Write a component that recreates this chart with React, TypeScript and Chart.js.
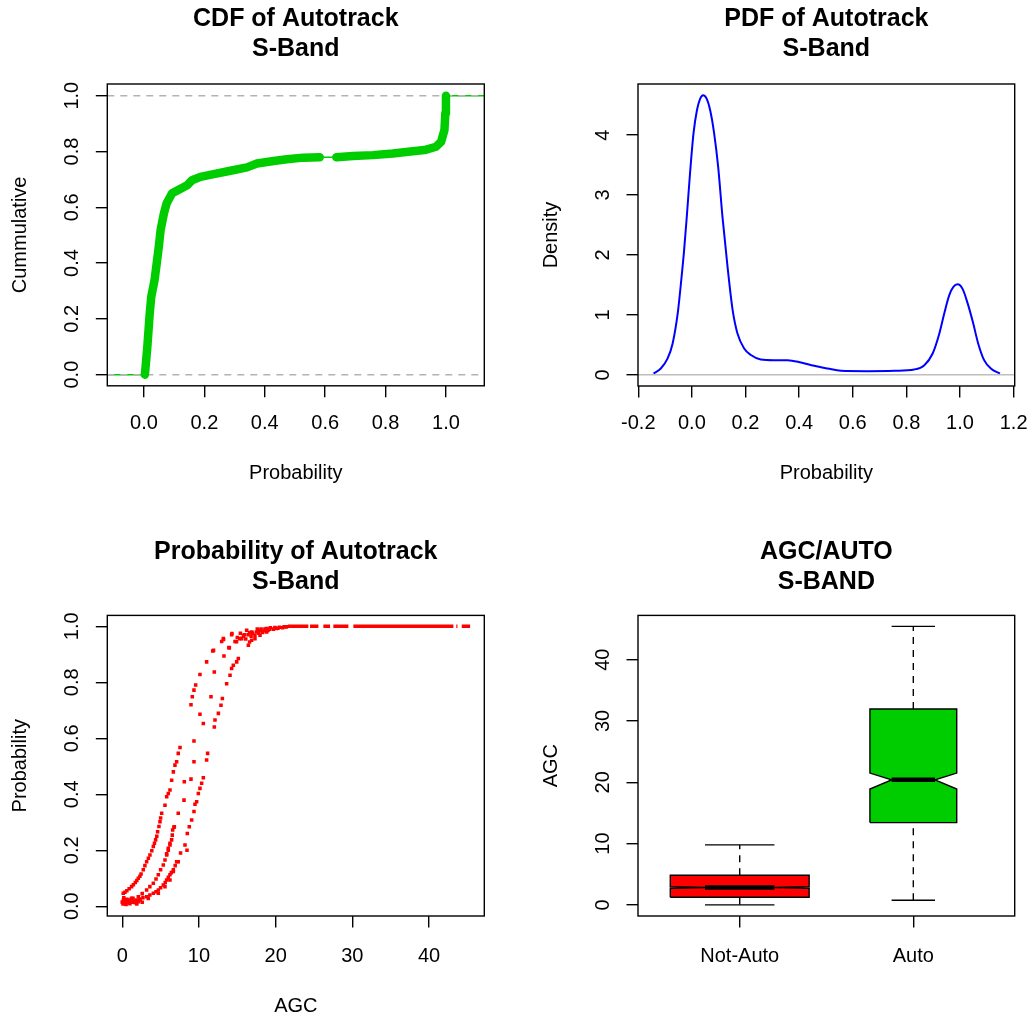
import React, { useEffect, useRef } from 'react';
import { Chart, registerables } from 'chart.js';

Chart.register(...registerables);

const FONT = "'Liberation Sans', Arial, Helvetica, sans-serif";
Chart.defaults.font.family = FONT;
Chart.defaults.color = '#000';

const GREEN = '#00CD00';
const RED = '#FF0000';
const BLUE = '#0000FF';

// ---------------- Panel 1 : CDF ----------------
const cdfXLimits = [-0.1215, 1.127];
const cdfYLimits = [-0.04, 1.042];
const cdfXTicks = [0, 0.2, 0.4, 0.6, 0.8, 1.0];
const cdfXTickLabels = ['0.0', '0.2', '0.4', '0.6', '0.8', '1.0'];
const cdfYTicks = [0, 0.2, 0.4, 0.6, 0.8, 1.0];
const cdfYTickLabels = ['0.0', '0.2', '0.4', '0.6', '0.8', '1.0'];
const cdfLower = [
  [0.003, 0.0], [0.011, 0.099], [0.019, 0.219], [0.024, 0.279], [0.035, 0.339], [0.042, 0.398],
  [0.049, 0.458], [0.055, 0.518], [0.066, 0.578], [0.075, 0.614], [0.093, 0.65], [0.115, 0.663],
  [0.143, 0.679], [0.159, 0.697], [0.187, 0.709], [0.231, 0.719], [0.286, 0.731], [0.341, 0.743],
  [0.374, 0.757], [0.429, 0.766], [0.473, 0.772], [0.527, 0.778], [0.582, 0.779],
];
const cdfUpper = [
  [0.637, 0.779], [0.692, 0.784], [0.758, 0.787], [0.824, 0.793], [0.89, 0.801], [0.929, 0.805],
  [0.967, 0.817], [0.984, 0.835], [0.995, 0.877], [0.998, 0.937], [1.0, 1.0],
];
const cdfRefLines = [0, 1];

// ---------------- Panel 2 : PDF ----------------
const pdfXLimits = [-0.201, 1.204];
const pdfYLimits = [-0.1866, 4.853];
const pdfXTicks = [-0.2, 0, 0.2, 0.4, 0.6, 0.8, 1.0, 1.2];
const pdfXTickLabels = ['-0.2', '0.0', '0.2', '0.4', '0.6', '0.8', '1.0', '1.2'];
const pdfYTicks = [0, 1, 2, 3, 4];
const pdfYTickLabels = ['0', '1', '2', '3', '4'];
const densX = [-0.143, -0.116, -0.091, -0.072, -0.053, -0.041, -0.029, -0.019, -0.007, 0.006, 0.019, 0.031,
  0.042, 0.055, 0.068, 0.083, 0.098, 0.114, 0.133, 0.152, 0.17, 0.195, 0.22, 0.257, 0.307, 0.357, 0.407,
  0.456, 0.506, 0.556, 0.655, 0.755, 0.829, 0.867, 0.898, 0.923, 0.941, 0.96, 0.976, 0.991, 1.01, 1.028,
  1.048, 1.068, 1.09, 1.115, 1.149];
const densY = [0.022, 0.106, 0.27, 0.52, 1.02, 1.52, 2.08, 2.64, 3.36, 4.03, 4.42, 4.61,
  4.666, 4.61, 4.42, 4.03, 3.47, 2.64, 1.8, 1.08, 0.69, 0.44, 0.33, 0.256, 0.245, 0.245, 0.206,
  0.15, 0.106, 0.067, 0.061, 0.067, 0.089, 0.161, 0.356, 0.69, 1.02, 1.33, 1.47, 1.51, 1.43, 1.2,
  0.88, 0.52, 0.245, 0.106, 0.022];

// ---------------- Panel 3 : probability vs AGC ----------------
const probXLimits = [-1.95, 47.2];
const probYLimits = [-0.035, 1.039];
const probXTicks = [0, 10, 20, 30, 40];
const probXTickLabels = ['0', '10', '20', '30', '40'];
const probYTicks = [0, 0.2, 0.4, 0.6, 0.8, 1.0];
const probYTickLabels = ['0.0', '0.2', '0.4', '0.6', '0.8', '1.0'];
const probCurveA = [
  [0.13, 0.046], [0.35, 0.05], [0.6, 0.055], [0.9, 0.062], [1.22, 0.07], [1.45, 0.077], [1.7, 0.085],
  [1.9, 0.092], [2.09, 0.1], [2.3, 0.107], [2.45, 0.115], [2.74, 0.13], [2.95, 0.145], [3.18, 0.159],
  [3.4, 0.171], [3.61, 0.183], [3.85, 0.198], [4.05, 0.213], [4.2, 0.225], [4.35, 0.237], [4.5, 0.25],
  [4.61, 0.266], [4.78, 0.285], [4.92, 0.302], [5.0, 0.315], [5.14, 0.332], [5.57, 0.361], [5.79, 0.391],
  [6.0, 0.403], [6.22, 0.415], [6.44, 0.45], [6.66, 0.48], [6.87, 0.504], [7.09, 0.516], [7.3, 0.546],
  [7.53, 0.567], [8.96, 0.72], [9.13, 0.748], [9.35, 0.772], [9.57, 0.79], [10.13, 0.828], [11.0, 0.873],
  [11.79, 0.912], [12.96, 0.946], [13.18, 0.956], [14.26, 0.97],
];
const probCurveB = [
  [5.79, 0.187], [6.0, 0.207], [6.22, 0.225], [6.44, 0.237], [6.57, 0.272], [6.74, 0.282], [7.3, 0.332],
  [8.05, 0.379], [8.09, 0.445], [8.96, 0.454], [9.35, 0.516], [9.35, 0.59], [10.57, 0.653], [10.13, 0.686],
  [11.57, 0.748], [12.0, 0.837], [13.26, 0.894], [13.96, 0.923],
];
const probCurveC = [
  [0.05, 0.013], [0.57, 0.017], [1.0, 0.018], [1.44, 0.02], [1.9, 0.022], [2.31, 0.026], [2.7, 0.03],
  [3.18, 0.034], [3.6, 0.04], [4.05, 0.046], [4.4, 0.052], [4.7, 0.058], [5.0, 0.066], [5.35, 0.076],
  [5.6, 0.085], [5.79, 0.094], [6.0, 0.103], [6.22, 0.112], [6.4, 0.12], [6.66, 0.13], [6.9, 0.145],
  [7.09, 0.159], [7.6, 0.19], [8.18, 0.219], [8.44, 0.2], [8.48, 0.26], [8.74, 0.284], [9.05, 0.308],
  [9.35, 0.338], [9.48, 0.364], [9.7, 0.373], [9.92, 0.403], [10.13, 0.421], [10.35, 0.439], [10.57, 0.459],
  [11.0, 0.522], [11.13, 0.546], [12.0, 0.64], [12.09, 0.665], [12.53, 0.689], [12.87, 0.718], [13.05, 0.742],
  [13.61, 0.795], [14.05, 0.825], [14.26, 0.849], [14.48, 0.861], [14.92, 0.873], [15.13, 0.885],
  [16.44, 0.932], [16.87, 0.95], [17.3, 0.956], [17.96, 0.968], [18.83, 0.98],
];
const probCurveD = [
  [0.3, 0.02], [0.78, 0.022], [1.4, 0.028], [2.09, 0.034], [2.6, 0.045], [3.18, 0.058], [3.6, 0.07],
  [4.05, 0.082], [4.4, 0.097], [4.7, 0.112], [5.0, 0.13], [5.35, 0.147], [5.57, 0.165], [5.79, 0.183],
  [6.0, 0.2], [6.22, 0.219], [6.52, 0.254], [6.79, 0.284], [1.66, 0.014], [3.39, 0.028], [4.7, 0.046],
  [5.57, 0.07], [6.22, 0.094], [6.66, 0.124], [7.3, 0.159],
];
const probLowCluster = [
  [0.1, 0.008], [0.4, 0.01], [0.7, 0.012], [1.0, 0.009], [1.3, 0.014], [1.7, 0.012], [2.1, 0.016],
  [2.6, 0.014], [0.2, 0.03], [0.6, 0.025], [0.9, 0.02], [1.2, 0.028], [0.3, 0.018], [0.0, 0.015],
  [0.5, 0.006], [0.8, 0.016], [1.5, 0.02], [1.9, 0.008], [2.3, 0.022], [0.15, 0.022],
];
const probUpperPts = [
  [11.9, 0.914], [13.2, 0.953], [13.9, 0.924], [14.3, 0.974], [14.7, 0.946], [14.9, 0.945], [15.0, 0.96],
  [15.3, 0.956], [15.4, 0.975], [15.57, 0.956], [15.8, 0.965], [15.9, 0.97], [16.1, 0.955], [16.22, 0.986],
  [16.4, 0.97], [16.6, 0.978], [16.6, 0.944], [16.8, 0.965], [16.9, 0.98], [17.0, 0.975], [17.3, 0.968],
  [17.5, 0.98], [17.6, 0.99], [17.8, 0.975], [17.9, 0.985], [18.0, 0.986], [18.1, 0.99], [18.3, 0.978],
  [18.5, 0.984], [18.6, 0.99], [18.8, 0.992], [19.0, 0.985], [19.2, 0.99], [19.3, 0.995], [19.7, 0.99],
  [19.9, 0.996], [20.1, 0.992], [20.3, 0.993], [20.5, 0.997], [20.9, 0.995], [21.1, 0.998], [21.4, 0.998],
];
const probTopBand = [
  [21.6, 24.26], [24.48, 25.57], [26.22, 27.09], [27.52, 29.48], [30.13, 43.17], [43.55, 43.7], [44.26, 45.35],
];

// ---------------- Panel 4 : boxplot ----------------
const boxXLimits = [0.414, 2.584];
const boxYLimits = [-1.816, 47.22];
const boxCats = ['Not-Auto', 'Auto'];
const boxPos = [1, 2];
const boxHalfWidth = [0.4, 0.25];
const boxColors = [RED, GREEN];
const whiskLow = [0, 0.76];
const q1 = [1.25, 13.42];
const med = [2.83, 20.4];
const q3 = [4.84, 31.96];
const whiskHigh = [9.78, 45.43];
const notchLow = [2.7, 18.9];
const notchHigh = [2.96, 21.5];
const boxYTicks = [0, 10, 20, 30, 40];
const boxYTickLabels = ['0', '10', '20', '30', '40'];

// ---------------- layout constants ----------------
const FS = 20;
const TFS = 25;
const MID = 0.3465;
const TL = 11.5;
const LW = 1.4;
const TICK_LH = 1.2;
const AX_LH = 1.0;
const TITLE_LH = 1.2;

type Geom = {
  cl: number; ct: number; cw: number; ch: number;
  pl: number; pt: number; pr: number; pb: number;
  titleBase: number; xTickBase: number; xTitleBase: number; yTickBase: number; yTitleBase: number;
};

const G1: Geom = { cl: 0, ct: 0, cw: 592, ch: 508, pl: 107.3, pt: 84, pr: 484.3, pb: 385.8, titleBase: 27.5, xTickBase: 430.7, xTitleBase: 480.5, yTickBase: 79.3, yTitleBase: 27.8 };
const G2: Geom = { cl: 514, ct: 0, cw: 625, ch: 508, pl: 638, pt: 84, pr: 1014.7, pb: 386, titleBase: 27.5, xTickBase: 430.7, xTitleBase: 480.5, yTickBase: 610, yTitleBase: 558.3 };
const G3: Geom = { cl: 0, ct: 508, cw: 592, ch: 509, pl: 107.3, pt: 615.4, pr: 484.3, pb: 916, titleBase: 560.7, xTickBase: 963, xTitleBase: 1013, yTickBase: 79.3, yTitleBase: 27.8 };
const G4: Geom = { cl: 514, ct: 508, cw: 625, ch: 509, pl: 638, pt: 615.4, pr: 1014.7, pb: 916, titleBase: 560.7, xTickBase: 963, xTitleBase: 1013, yTickBase: 610, yTitleBase: 558.3 };

function textWidth(s: string): number {
  const c = document.createElement('canvas').getContext('2d')!;
  c.font = `${FS}px ${FONT}`;
  return c.measureText(s).width;
}

type Pt = { x: number; y: number | null };
const toPts = (a: number[][]): Pt[] => a.map(([x, y]) => ({ x, y }));
const mk = (data: Pt[], o: any) => ({
  type: 'line', data, pointRadius: 0, fill: false, xAxisID: 'x', yAxisID: 'y', tension: 0, ...o,
});

type Spec = {
  g: Geom; title: string[]; xTitle: string | null; yTitle: string;
  xLim: number[]; yLim: number[]; xTicks: number[]; xLabels: string[]; yTicks: number[]; yLabels: string[];
  datasets: any[];
};

const framePlugin = {
  id: 'frame',
  afterDatasetsDraw(chart: any) {
    const { ctx, chartArea: a } = chart;
    ctx.save();
    ctx.strokeStyle = '#000';
    ctx.lineWidth = LW;
    ctx.strokeRect(a.left, a.top, a.right - a.left, a.bottom - a.top);
    ctx.restore();
  },
};

function buildConfig(s: Spec): any {
  const g = s.g;
  const wY = g.pl - g.cl;
  const hX = g.ct + g.ch - g.pb;
  const padR = g.cw - (g.pr - g.cl) - wY;
  const titlePadTop = g.titleBase - g.ct - TFS * MID - (TFS * TITLE_LH) / 2;
  const titlePadBottom = g.pt - g.ct - titlePadTop - TFS * TITLE_LH * s.title.length;
  const xTickPad = g.xTickBase - FS * MID - g.pb - TL - (FS * TICK_LH) / 2;
  const xTitlePad = g.ct + g.ch - (g.xTitleBase - FS * MID) - (FS * AX_LH) / 2;
  const yTitlePad = g.yTitleBase - FS * MID - g.cl - (FS * AX_LH) / 2;
  const widest = Math.max(...s.yLabels.map(textWidth));
  const yTickPad = wY - TL - widest / 2 - (g.yTickBase - FS * MID - g.cl);
  const tickFont = { family: FONT, size: FS, lineHeight: TICK_LH };
  const axFont = { family: FONT, size: FS, lineHeight: AX_LH };
  const grid = { display: true, drawOnChartArea: false, drawTicks: true, tickLength: TL, color: '#000', lineWidth: LW };

  return {
    type: 'line',
    data: { datasets: s.datasets },
    plugins: [framePlugin],
    options: {
      responsive: false,
      animation: false,
      devicePixelRatio: 1,
      events: [],
      layout: { padding: { left: 0, top: 0, right: padR, bottom: 0 }, autoPadding: false },
      elements: { point: { radius: 0 } },
      plugins: {
        legend: { display: false },
        tooltip: { enabled: false },
        title: {
          display: true,
          text: s.title,
          color: '#000',
          font: { family: FONT, size: TFS, weight: 'bold', lineHeight: TITLE_LH },
          padding: { top: titlePadTop, bottom: titlePadBottom },
        },
      },
      scales: {
        x: {
          type: 'linear', position: 'bottom', min: s.xLim[0], max: s.xLim[1], bounds: 'data',
          afterBuildTicks: (sc: any) => { sc.ticks = s.xTicks.map((v) => ({ value: v })); },
          afterFit: (sc: any) => { sc.height = hX; sc.paddingLeft = 0; sc.paddingRight = 0; sc.paddingTop = 0; sc.paddingBottom = 0; },
          ticks: { autoSkip: false, minRotation: 0, maxRotation: 0, padding: xTickPad, font: tickFont, color: '#000', callback: (_v: any, i: number) => s.xLabels[i] },
          grid,
          border: { display: false },
          title: s.xTitle
            ? { display: true, text: s.xTitle, color: '#000', font: axFont, padding: { top: 0, bottom: xTitlePad } }
            : { display: false },
        },
        y: {
          type: 'linear', position: 'left', min: s.yLim[0], max: s.yLim[1], bounds: 'data',
          afterBuildTicks: (sc: any) => { sc.ticks = s.yTicks.map((v) => ({ value: v })); },
          afterFit: (sc: any) => { sc.width = wY; sc.paddingLeft = 0; sc.paddingRight = 0; sc.paddingTop = 0; sc.paddingBottom = 0; },
          ticks: { autoSkip: false, minRotation: 90, maxRotation: 90, crossAlign: 'center', padding: yTickPad, font: tickFont, color: '#000', callback: (_v: any, i: number) => s.yLabels[i] },
          grid,
          border: { display: false },
          title: { display: true, text: s.yTitle, color: '#000', font: axFont, padding: { top: yTitlePad, bottom: 0 } },
        },
        yr: {
          type: 'linear', position: 'right', min: 0, max: 1, display: true,
          afterFit: (sc: any) => { sc.width = wY; sc.paddingTop = 0; sc.paddingBottom = 0; },
          ticks: { display: false },
          grid: { display: false },
          border: { display: false },
          title: { display: false },
        },
      },
    },
  };
}

// ---------------- datasets ----------------
function cdfDatasets() {
  const band = { borderColor: GREEN, borderWidth: 8.5, borderCapStyle: 'round', borderJoinStyle: 'round' };
  const last = cdfLower[cdfLower.length - 1];
  const first = cdfUpper[0];
  return [
    mk(toPts(cdfLower), { ...band, order: 1 }),
    mk(toPts(cdfUpper), { ...band, order: 1 }),
    mk([{ x: last[0], y: last[1] }, { x: first[0], y: first[1] }], { borderColor: GREEN, borderWidth: 1.5, order: 2 }),
    ...cdfRefLines.map((v) =>
      mk([{ x: cdfXLimits[0], y: v }, { x: cdfXLimits[1], y: v }], { borderColor: '#B3B3B3', borderWidth: 1.5, borderDash: [7, 6], order: 3 })),
    mk([{ x: cdfXLimits[0], y: cdfRefLines[0] }, { x: cdfLower[0][0], y: cdfRefLines[0] }], { borderColor: GREEN, borderWidth: 1.5, order: 4 }),
    mk([{ x: 1.0, y: cdfRefLines[1] }, { x: cdfXLimits[1], y: cdfRefLines[1] }], { borderColor: GREEN, borderWidth: 1.5, order: 4 }),
  ];
}

function pdfDatasets() {
  return [
    mk(densX.map((x, i) => ({ x, y: densY[i] })), { borderColor: BLUE, borderWidth: 2, cubicInterpolationMode: 'monotone', order: 1 }),
    mk([{ x: pdfXLimits[0], y: 0 }, { x: pdfXLimits[1], y: 0 }], { borderColor: '#BEBEBE', borderWidth: 1.5, order: 2 }),
  ];
}

function probDatasets() {
  const groups = [probCurveA, probCurveB, probCurveC, probCurveD, probLowCluster, probUpperPts];
  const pts = groups.map((gr) => mk(toPts(gr), {
    showLine: false, pointRadius: 2.5, pointStyle: 'rect', pointBackgroundColor: RED, pointBorderColor: RED,
    pointBorderWidth: 0, borderColor: RED, order: 1,
  }));
  const bandData: Pt[] = [];
  probTopBand.forEach(([a, b]) => { bandData.push({ x: a, y: 1 }, { x: b, y: 1 }, { x: b, y: null }); });
  return [...pts, mk(bandData, { borderColor: RED, borderWidth: 3.5, spanGaps: false, order: 2 })];
}

function boxDatasets() {
  const ds: any[] = [];
  const clear = 'rgba(0,0,0,0)';
  boxCats.forEach((_c, i) => {
    const c = boxPos[i];
    const hw = boxHalfWidth[i];
    const col = boxColors[i];
    const base = ds.length;
    ds.push(mk([{ x: c - hw, y: q1[i] }, { x: c + hw, y: q1[i] }], { borderColor: clear, borderWidth: 1, order: 10 }));
    ds.push(mk([{ x: c - hw, y: notchLow[i] }, { x: c - hw / 2, y: med[i] }, { x: c + hw / 2, y: med[i] }, { x: c + hw, y: notchLow[i] }],
      { borderColor: clear, borderWidth: 1, fill: base, backgroundColor: col, order: 10 }));
    ds.push(mk([{ x: c - hw, y: notchHigh[i] }, { x: c - hw / 2, y: med[i] }, { x: c + hw / 2, y: med[i] }, { x: c + hw, y: notchHigh[i] }],
      { borderColor: clear, borderWidth: 1, order: 10 }));
    ds.push(mk([{ x: c - hw, y: q3[i] }, { x: c + hw, y: q3[i] }], { borderColor: clear, borderWidth: 1, fill: base + 2, backgroundColor: col, order: 10 }));
    ds.push(mk([
      { x: c - hw, y: q1[i] }, { x: c - hw, y: notchLow[i] }, { x: c - hw / 2, y: med[i] }, { x: c - hw, y: notchHigh[i] },
      { x: c - hw, y: q3[i] }, { x: c + hw, y: q3[i] }, { x: c + hw, y: notchHigh[i] }, { x: c + hw / 2, y: med[i] },
      { x: c + hw, y: notchLow[i] }, { x: c + hw, y: q1[i] }, { x: c - hw, y: q1[i] },
    ], { borderColor: '#000', borderWidth: LW, borderJoinStyle: 'miter', order: 5 }));
    ds.push(mk([{ x: c - hw / 2, y: med[i] }, { x: c + hw / 2, y: med[i] }], { borderColor: '#000', borderWidth: 4.5, order: 1 }));
    ds.push(mk([{ x: c, y: q3[i] }, { x: c, y: whiskHigh[i] }], { borderColor: '#000', borderWidth: LW, borderDash: [7, 6], order: 6 }));
    ds.push(mk([{ x: c, y: whiskLow[i] }, { x: c, y: q1[i] }], { borderColor: '#000', borderWidth: LW, borderDash: [7, 6], order: 6 }));
    ds.push(mk([{ x: c - hw / 2, y: whiskHigh[i] }, { x: c + hw / 2, y: whiskHigh[i] }], { borderColor: '#000', borderWidth: LW, order: 6 }));
    ds.push(mk([{ x: c - hw / 2, y: whiskLow[i] }, { x: c + hw / 2, y: whiskLow[i] }], { borderColor: '#000', borderWidth: LW, order: 6 }));
  });
  return ds;
}

const specs: Spec[] = [
  {
    g: G1, title: ['CDF of Autotrack', 'S-Band'], xTitle: 'Probability', yTitle: 'Cummulative',
    xLim: cdfXLimits, yLim: cdfYLimits, xTicks: cdfXTicks, xLabels: cdfXTickLabels, yTicks: cdfYTicks, yLabels: cdfYTickLabels,
    datasets: cdfDatasets(),
  },
  {
    g: G2, title: ['PDF of Autotrack', 'S-Band'], xTitle: 'Probability', yTitle: 'Density',
    xLim: pdfXLimits, yLim: pdfYLimits, xTicks: pdfXTicks, xLabels: pdfXTickLabels, yTicks: pdfYTicks, yLabels: pdfYTickLabels,
    datasets: pdfDatasets(),
  },
  {
    g: G3, title: ['Probability of Autotrack', 'S-Band'], xTitle: 'AGC', yTitle: 'Probability',
    xLim: probXLimits, yLim: probYLimits, xTicks: probXTicks, xLabels: probXTickLabels, yTicks: probYTicks, yLabels: probYTickLabels,
    datasets: probDatasets(),
  },
  {
    g: G4, title: ['AGC/AUTO', 'S-BAND'], xTitle: null, yTitle: 'AGC',
    xLim: boxXLimits, yLim: boxYLimits, xTicks: boxPos, xLabels: boxCats, yTicks: boxYTicks, yLabels: boxYTickLabels,
    datasets: boxDatasets(),
  },
];

function Panel({ spec }: { spec: Spec }) {
  const ref = useRef<HTMLCanvasElement>(null);
  useEffect(() => {
    const chart = new Chart(ref.current as HTMLCanvasElement, buildConfig(spec));
    return () => chart.destroy();
  }, [spec]);
  const g = spec.g;
  return (
    <canvas
      ref={ref}
      width={g.cw}
      height={g.ch}
      style={{ position: 'absolute', left: g.cl, top: g.ct, width: g.cw, height: g.ch }}
    />
  );
}

export default function App() {
  return (
    <div style={{ position: 'absolute', left: 0, top: 0, width: 1029, height: 1017, overflow: 'hidden', background: '#fff' }}>
      {specs.map((s, i) => <Panel key={i} spec={s} />)}
    </div>
  );
}
